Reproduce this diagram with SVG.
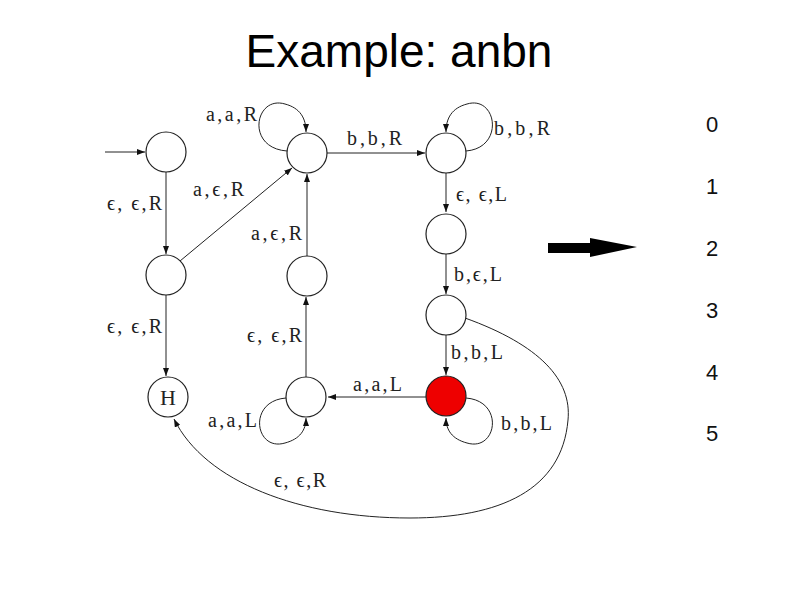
<svg xmlns="http://www.w3.org/2000/svg" width="800" height="600" viewBox="0 0 800 600">
<defs>
<marker id="ah" markerUnits="userSpaceOnUse" markerWidth="8" markerHeight="6" refX="8" refY="3" orient="auto">
<path d="M0,0 L8,3 L0,6 z" fill="#111"/>
</marker>
<style>
.st{fill:#fff;stroke:#222;stroke-width:1.2}
.e{fill:none;stroke:#222;stroke-width:1;marker-end:url(#ah)}
.lb{font-family:"Liberation Serif","DejaVu Serif",serif;font-size:20px;fill:#222}
.num{font-family:"Liberation Sans",Arial,sans-serif;font-size:22px;fill:#111}
</style>
</defs>
<rect width="800" height="600" fill="#fff"/>
<text x="399" y="67" text-anchor="middle" font-family="Liberation Sans, Arial, sans-serif" font-size="46" fill="#000">Example: anbn</text>

<g id="connectors">
<path class="e" d="M105,152 L145,152"/>
<path class="e" d="M166,172 L166,254"/>
<path class="e" d="M180,261 L292,168"/>
<path class="e" d="M287,151 C245,148 255,95 285,104 C300,108 306,118 306,132"/>
<path class="e" d="M327,153 L425,153"/>
<path class="e" d="M466,151 C505,148 497,95 467,104 C452,108 446,118 446,132"/>
<path class="e" d="M446,173 L446,212"/>
<path class="e" d="M446,254 L446,294"/>
<path class="e" d="M446,335 L446,375"/>
<path class="e" d="M466,398 C505,401 497,452 467,443 C452,439 446,430 446,418"/>
<path class="e" d="M426,397 L328,397"/>
<path class="e" d="M286,398 C247,401 255,452 285,443 C300,439 306,430 306,418"/>
<path class="e" d="M306,377 L306,297"/>
<path class="e" d="M307,256 L307,174"/>
<path class="e" d="M166,295 L166,376"/>
<path class="e" d="M465,318 C540,345 572,380 568,420 C562,490 500,518 410,518 C300,518 205,482 174,419"/>
</g>

<g id="labels">
<text class="lb" x="206" y="121" textLength="51" lengthAdjust="spacing">a,a,R</text>
<text class="lb" x="347" y="145" textLength="55" lengthAdjust="spacing">b,b,R</text>
<text class="lb" x="494" y="135" textLength="56" lengthAdjust="spacing">b,b,R</text>
<text class="lb" x="107" y="210" textLength="55" lengthAdjust="spacing">ϵ, ϵ,R</text>
<text class="lb" x="193" y="196" textLength="51" lengthAdjust="spacing">a,ϵ,R</text>
<text class="lb" x="456" y="201" textLength="51" lengthAdjust="spacing">ϵ, ϵ,L</text>
<text class="lb" x="251" y="240" textLength="51" lengthAdjust="spacing">a,ϵ,R</text>
<text class="lb" x="454" y="281" textLength="48" lengthAdjust="spacing">b,ϵ,L</text>
<text class="lb" x="107" y="333" textLength="55" lengthAdjust="spacing">ϵ, ϵ,R</text>
<text class="lb" x="247" y="342" textLength="55" lengthAdjust="spacing">ϵ, ϵ,R</text>
<text class="lb" x="451" y="359" textLength="52" lengthAdjust="spacing">b,b,L</text>
<text class="lb" x="353" y="391" textLength="49" lengthAdjust="spacing">a,a,L</text>
<text class="lb" x="501" y="430" textLength="51" lengthAdjust="spacing">b,b,L</text>
<text class="lb" x="208" y="427" textLength="49" lengthAdjust="spacing">a,a,L</text>
<text class="lb" x="274" y="487" textLength="52" lengthAdjust="spacing">ϵ, ϵ,R</text>
</g>

<g id="q0"><circle class="st" cx="166" cy="152" r="20"/></g>
<g id="q1"><circle class="st" cx="307" cy="153" r="20"/></g>
<g id="q2"><circle class="st" cx="446" cy="153" r="20"/></g>
<g id="q3"><circle class="st" cx="446" cy="234" r="20"/></g>
<g id="q4"><circle class="st" cx="446" cy="315" r="20"/></g>
<g id="q5"><circle cx="446" cy="396" r="20" fill="#ee0000" stroke="#222" stroke-width="1.2"/></g>
<g id="q6"><circle class="st" cx="166" cy="275" r="20"/></g>
<g id="q7"><circle class="st" cx="307" cy="276" r="20"/></g>
<g id="q8"><circle class="st" cx="306" cy="397" r="20"/></g>
<g id="H"><circle class="st" cx="168" cy="397" r="20"/><text x="168" y="405" text-anchor="middle" font-family="Liberation Serif, DejaVu Serif, serif" font-size="22" fill="#222">H</text></g>

<g id="bigarrow"><path d="M548,243 L590,243 L590,238 L637,247 L590,257 L590,253 L548,253 z" fill="#000"/></g>

<g id="numbers">
<text class="num" x="706" y="132">0</text>
<text class="num" x="706" y="194">1</text>
<text class="num" x="706" y="256">2</text>
<text class="num" x="706" y="318">3</text>
<text class="num" x="706" y="380">4</text>
<text class="num" x="706" y="441">5</text>
</g>
</svg>
